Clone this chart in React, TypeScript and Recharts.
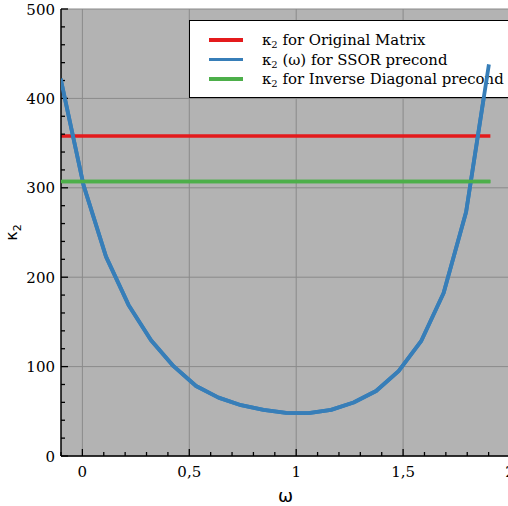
import React from 'react';
import { LineChart, Line, XAxis, YAxis, CartesianGrid, Legend } from 'recharts';

// ---- data ----
const omega = [-0.1, 0.0053, 0.1105, 0.2158, 0.3211, 0.4263, 0.5316, 0.6368, 0.7421, 0.8474, 0.9526, 1.0579, 1.1632, 1.2684, 1.3737, 1.4789, 1.5842, 1.6895, 1.7947, 1.9];
const kappaSSOR = [420, 303, 223, 169, 129.5, 100.5, 78.3, 65.3, 56.8, 51.6, 48.2, 47.9, 51.6, 59.8, 72.7, 95, 128.4, 182.3, 273, 436];
const kappaOriginal = 358;
const kappaInvDiag = 307;
const seriesNames = ['κ₂ for Original Matrix', 'κ₂ (ω) for SSOR precond', 'κ₂ for Inverse Diagonal precond'];
const seriesColors = ['#e41a1c', '#377eb8', '#4daf4a'];
const xTicksAll = [-0.1, 0, 0.1, 0.2, 0.3, 0.4, 0.5, 0.6, 0.7, 0.8, 0.9, 1, 1.1, 1.2, 1.3, 1.4, 1.5, 1.6, 1.7, 1.8, 1.9, 2];
const xTicksMajor = [0, 0.5, 1, 1.5, 2];
const yTicksAll = [0, 20, 40, 60, 80, 100, 120, 140, 160, 180, 200, 220, 240, 260, 280, 300, 320, 340, 360, 380, 400, 420, 440, 460, 480, 500];
const yTicksMajor = [0, 100, 200, 300, 400, 500];
const xDomain: [number, number] = [-0.1, 2.0];
const yDomain: [number, number] = [0, 500];
const xLabel = 'ω';

const data = omega.map((x, i) => ({ x, orig: kappaOriginal, ssor: kappaSSOR[i], diag: kappaInvDiag }));

// ---- style ----
const W = 530;
const H = 506;
const M = { top: 9, right: 20, left: 0, bottom: 0 };
const XH = 50;
const YW = 61;
const SERIF = "'DejaVu Serif', serif";
const SANS = "'DejaVu Sans', sans-serif";
const TICK_FS = 15;
const LEG_FS = 14.9;
const axisLineStyle = { stroke: '#000', strokeWidth: 1.5 };
const MAJ = 7;
const MIN = 4;

const isIn = (v: number, arr: number[]) => arr.some((m) => Math.abs(m - v) < 1e-6);
const fmt = (v: number) => String(v).replace('.', ',');

const BottomTick = (p: any) => {
  const { x, y, payload } = p;
  const major = isIn(payload.value, xTicksMajor);
  return (
    <g>
      <line x1={x} x2={x} y1={y} y2={y - (major ? MAJ : MIN)} stroke="#000" strokeWidth={1.3} />
      {major && (
        <text x={x} y={y + 21} textAnchor="middle" fontFamily={SERIF} fontSize={TICK_FS} fill="#000">
          {fmt(payload.value)}
        </text>
      )}
    </g>
  );
};
const TopTick = (p: any) => {
  const { x, y, payload } = p;
  const major = isIn(payload.value, xTicksMajor);
  return <line x1={x} x2={x} y1={y} y2={y + (major ? MAJ : MIN)} stroke="#000" strokeWidth={1.3} />;
};
const LeftTick = (p: any) => {
  const { x, y, payload } = p;
  const major = isIn(payload.value, yTicksMajor);
  return (
    <g>
      <line x1={x} x2={x + (major ? MAJ : MIN)} y1={y} y2={y} stroke="#000" strokeWidth={1.3} />
      {major && (
        <text x={x - 6} y={y + 5.5} textAnchor="end" fontFamily={SERIF} fontSize={TICK_FS} fill="#000">
          {fmt(payload.value)}
        </text>
      )}
    </g>
  );
};
const RightTick = (p: any) => {
  const { x, y, payload } = p;
  const major = isIn(payload.value, yTicksMajor);
  return <line x1={x} x2={x - (major ? MAJ : MIN)} y1={y} y2={y} stroke="#000" strokeWidth={1.3} />;
};

const renderXLabel = (p: any) => {
  const vb = p.viewBox || {};
  const cx = vb.x + vb.width / 2;
  return (
    <text x={cx} y={vb.y + 46} textAnchor="middle" fontFamily={SANS} fontSize={18} fill="#000">
      {xLabel}
    </text>
  );
};
const renderYLabel = (p: any) => {
  const vb = p.viewBox || {};
  const cx = vb.x + 17;
  const cy = vb.y + vb.height / 2;
  return (
    <text x={cx} y={cy} transform={`rotate(-90 ${cx} ${cy})`} textAnchor="middle" fontFamily={SANS} fontSize={16} fill="#000">
      κ<tspan dy={4} fontSize={11}>2</tspan>
    </text>
  );
};

const renderName = (name: string) => {
  const rest = name.replace('κ₂', '');
  return (
    <span>
      κ<sub style={{ fontSize: 10, verticalAlign: 'baseline', position: 'relative', top: 3 }}>2</sub>
      {rest}
    </span>
  );
};

const renderLegend = (p: any) => {
  const payload = [...(p.payload || [])].sort(
    (a: any, b: any) => seriesNames.indexOf(String(a.value)) - seriesNames.indexOf(String(b.value))
  );
  return (
    <div
      style={{
        width: 340,
        height: 78,
        background: '#fff',
        border: '1.3px solid #000',
        boxSizing: 'border-box',
        position: 'relative',
        fontFamily: SERIF,
        fontSize: LEG_FS,
        color: '#000',
      }}
    >
      {payload.map((e: any, i: number) => (
        <div key={i} style={{ position: 'absolute', left: 0, top: 8 + i * 19.5, height: 22, display: 'flex', alignItems: 'center', whiteSpace: 'nowrap' }}>
          <div style={{ width: 34, height: 3.5, background: e.color, marginLeft: 19, marginRight: 19 }} />
          {renderName(String(e.value))}
        </div>
      ))}
    </div>
  );
};

const commonX = { type: 'number' as const, dataKey: 'x', domain: xDomain, allowDataOverflow: true };
const commonY = { type: 'number' as const, domain: yDomain, allowDataOverflow: true };

const BaseChart = () => (
  <LineChart width={W} height={H} data={data} margin={M}>
    <CartesianGrid
      xAxisId="b"
      yAxisId="l"
      fill="#b3b3b3"
      fillOpacity={1}
      stroke="#8a8a8a"
      strokeWidth={1}
      horizontalValues={yTicksMajor}
      verticalValues={xTicksMajor}
    />
    <XAxis {...commonX} xAxisId="b" ticks={xTicksAll} interval={0} tickSize={0} tickMargin={0} tick={(p: any) => <BottomTick {...p} />} tickLine={false} axisLine={axisLineStyle} height={XH} label={renderXLabel} />
    <XAxis {...commonX} xAxisId="t" orientation="top" ticks={xTicksAll} interval={0} tickSize={0} tickMargin={0} tick={(p: any) => <TopTick {...p} />} tickLine={false} axisLine={axisLineStyle} height={0} />
    <YAxis {...commonY} yAxisId="l" ticks={yTicksAll} interval={0} tickSize={0} tickMargin={0} tick={(p: any) => <LeftTick {...p} />} tickLine={false} axisLine={axisLineStyle} width={YW} label={renderYLabel} />
    <YAxis {...commonY} yAxisId="r" orientation="right" ticks={yTicksAll} interval={0} tickSize={0} tickMargin={0} tick={(p: any) => <RightTick {...p} />} tickLine={false} axisLine={axisLineStyle} width={0} />
    <Line xAxisId="b" yAxisId="l" type="linear" dataKey="orig" name={seriesNames[0]} stroke={seriesColors[0]} strokeWidth={3.5} dot={false} activeDot={false} isAnimationActive={false} strokeLinecap="square" />
    <Line xAxisId="b" yAxisId="l" type="linear" dataKey="ssor" name={seriesNames[1]} stroke={seriesColors[1]} strokeWidth={3.8} dot={false} activeDot={false} isAnimationActive={false} strokeLinecap="square" strokeLinejoin="round" />
    <Line xAxisId="b" yAxisId="l" type="linear" dataKey="diag" name={seriesNames[2]} stroke={seriesColors[2]} strokeWidth={3.5} dot={false} activeDot={false} isAnimationActive={false} strokeLinecap="square" />
    <Legend layout="horizontal" verticalAlign="middle" align="center" content={renderLegend} wrapperStyle={{ left: 189, top: 20, width: 340, height: 78 }} />
  </LineChart>
);

const TopChart = () => (
  <LineChart width={W} height={H} data={data} margin={M}>
    <XAxis {...commonX} xAxisId="b" ticks={xTicksAll} tick={false} tickLine={false} axisLine={false} height={XH} />
    <YAxis {...commonY} yAxisId="l" ticks={yTicksAll} tick={false} tickLine={false} axisLine={false} width={YW} />
    <Line xAxisId="b" yAxisId="l" type="linear" dataKey="ssor" name={seriesNames[1]} stroke={seriesColors[1]} strokeWidth={3.8} dot={false} activeDot={false} isAnimationActive={false} strokeLinecap="square" strokeLinejoin="round" />
    <Line xAxisId="b" yAxisId="l" type="linear" dataKey="diag" name={seriesNames[2]} stroke={seriesColors[2]} strokeWidth={3.5} dot={false} activeDot={false} isAnimationActive={false} strokeLinecap="square" />
  </LineChart>
);

export default function App() {
  return (
    <div style={{ position: 'fixed', left: 0, top: 0, width: 508, height: 506, overflow: 'hidden', background: '#fff' }}>
      <div style={{ position: 'absolute', left: 0, top: 0 }}>
        <BaseChart />
      </div>
      <div style={{ position: 'absolute', left: 0, top: 0, pointerEvents: 'none' }}>
        <TopChart />
      </div>
    </div>
  );
}
